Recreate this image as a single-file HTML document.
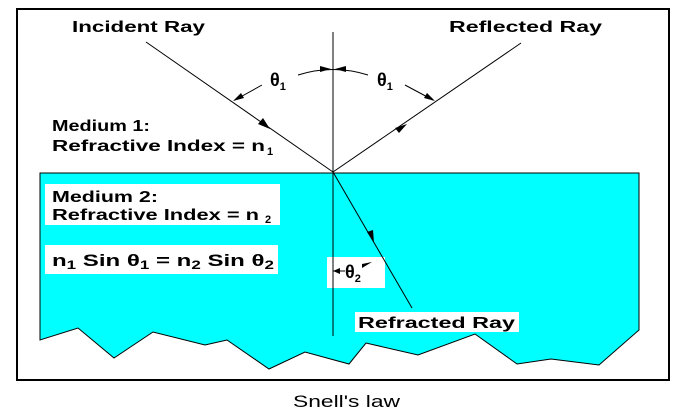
<!DOCTYPE html>
<html><head><style>
html,body{margin:0;padding:0;background:#fff;width:680px;height:416px;overflow:hidden}
text{font-family:"Liberation Sans",Arial,sans-serif;font-weight:bold;fill:#000}
</style></head><body>
<svg width="680" height="416" viewBox="0 0 680 416" xmlns="http://www.w3.org/2000/svg">
<rect x="17" y="9" width="652" height="371" fill="#fff" stroke="#000" stroke-width="2"/>
<polygon fill="#00ffff" stroke="#000" stroke-width="1" points="40,173 639,173 639,330 599,365 551,359 517,364 475,334 418,355 366,343 349,364 305,352 269,369 227,340 205,345 153,332 114,358 78,328 40,340"/>
<rect x="45" y="184" width="235" height="41" fill="#fff"/>
<rect x="45" y="245" width="233" height="29" fill="#fff"/>
<rect x="327" y="257" width="58" height="31" fill="#fff"/>
<rect x="355" y="312" width="164" height="20" fill="#fff"/>
<g stroke="#000" stroke-width="1" fill="none">
<line x1="333" y1="32" x2="333" y2="336"/>
<line x1="146" y1="42" x2="333" y2="172"/>
<line x1="333" y1="172" x2="521" y2="43"/>
<line x1="333" y1="172" x2="412" y2="308"/>
<path d="M298,75 Q333,64 368,75"/>
<line x1="262" y1="85" x2="235" y2="100"/>
<line x1="405" y1="85" x2="433" y2="100"/>
<line x1="333" y1="271" x2="345" y2="271"/>
</g>
<g fill="#000">
<polygon points="331,69 320,66 320,72"/>
<polygon points="335,69 346,66 346,72"/>
<polygon points="233,101 241,93 244,98"/>
<polygon points="435,101 424,98 427,93"/>
<polygon points="270,129 258,124 263,118"/>
<polygon points="407,124 399,133 395,128"/>
<polygon points="374,243 367,232 373,230"/>
<polygon points="333,271 340,268 340,274"/>
<polygon points="362,264 372,262 362,268"/>
</g>
<text x="72" y="32" font-size="16" textLength="133" lengthAdjust="spacingAndGlyphs">Incident Ray</text>
<text x="449" y="32" font-size="16" textLength="153" lengthAdjust="spacingAndGlyphs">Reflected Ray</text>
<text x="270" y="86" font-size="18">θ<tspan font-size="11" dy="4">1</tspan></text>
<text x="377" y="86" font-size="18">θ<tspan font-size="11" dy="4">1</tspan></text>
<text x="52" y="131" font-size="16" textLength="98" lengthAdjust="spacingAndGlyphs">Medium 1:</text>
<text x="52" y="151" font-size="16" textLength="213" lengthAdjust="spacingAndGlyphs">Refractive Index = n</text>
<text x="267" y="155" font-size="11">1</text>
<text x="52" y="202" font-size="16" textLength="106" lengthAdjust="spacingAndGlyphs">Medium 2:</text>
<text x="52" y="220" font-size="16" textLength="207" lengthAdjust="spacingAndGlyphs">Refractive Index = n</text>
<text x="265" y="223" font-size="11">2</text>
<text x="52" y="266" font-size="17" textLength="222" lengthAdjust="spacingAndGlyphs">n<tspan font-size="12" dy="3">1</tspan><tspan dy="-3">  Sin θ</tspan><tspan font-size="12" dy="3">1</tspan><tspan dy="-3">  = n</tspan><tspan font-size="12" dy="3">2</tspan><tspan dy="-3"> Sin θ</tspan><tspan font-size="12" dy="3">2</tspan></text>
<text x="345" y="278" font-size="18">θ<tspan font-size="11" dy="4">2</tspan></text>
<text x="358" y="328" font-size="16" textLength="157" lengthAdjust="spacingAndGlyphs">Refracted Ray</text>
<text x="293" y="407" font-size="17" textLength="107" lengthAdjust="spacingAndGlyphs" style="font-weight:normal">Snell's law</text>
</svg>
</body></html>
